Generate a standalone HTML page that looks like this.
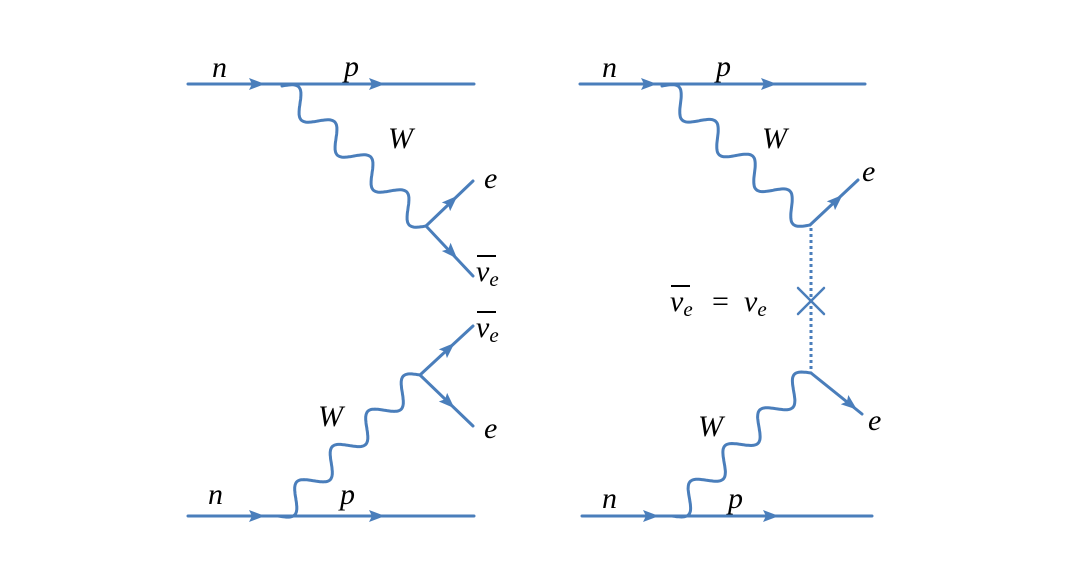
<!DOCTYPE html>
<html><head><meta charset="utf-8"><style>
html,body{margin:0;padding:0;background:#fff;width:1068px;height:580px;overflow:hidden}
svg{display:block}
text{font-family:"Liberation Serif","DejaVu Serif",serif;font-style:italic;fill:#000;font-size:30px}
.s{font-size:21px;font-style:italic}
.u{font-style:normal}
</style></head><body>
<svg id="s" width="1068" height="580" viewBox="0 0 1068 580">
<g stroke="#4a7ebb" stroke-width="3" fill="none" stroke-linecap="round">
<line x1="188" y1="84" x2="474" y2="84"/>
<line x1="426" y1="226" x2="473" y2="181"/>
<line x1="426" y1="226" x2="473" y2="276"/>
<line x1="188" y1="516" x2="474" y2="516"/>
<line x1="420" y1="375" x2="473" y2="326"/>
<line x1="420" y1="375" x2="473" y2="426"/>
<line x1="580" y1="84" x2="865" y2="84"/>
<line x1="810" y1="225" x2="858" y2="180"/>
<line x1="582" y1="516" x2="872" y2="516"/>
<line x1="811" y1="373" x2="862" y2="414"/>
<line x1="811" y1="228" x2="811" y2="372" stroke-dasharray="3,3" stroke-linecap="butt"/>
<line x1="798" y1="288" x2="824" y2="314" stroke-width="2.5"/>
<line x1="824" y1="288" x2="798" y2="314" stroke-width="2.5"/>
<g id="waves"></g>
</g>
<g fill="#4a7ebb" id="arrows"></g>
<g stroke="#000" stroke-width="2">
<line x1="477" y1="256" x2="496" y2="256"/>
<line x1="477" y1="312" x2="496" y2="312"/>
<line x1="671" y1="286" x2="690" y2="286"/>
</g>
<text x="212" y="77">n</text>
<text x="344" y="76">p</text>
<text x="388" y="148">W</text>
<text x="484" y="188">e</text>
<text x="476" y="281">ν<tspan class="s" dy="5">e</tspan></text>
<text x="476" y="337">ν<tspan class="s" dy="5">e</tspan></text>
<text x="484" y="438">e</text>
<text x="318" y="426">W</text>
<text x="208" y="504">n</text>
<text x="340" y="504">p</text>
<text x="602" y="77">n</text>
<text x="716" y="76">p</text>
<text x="762" y="148">W</text>
<text x="862" y="181">e</text>
<text x="670" y="311">ν<tspan class="s" dy="5">e</tspan></text>
<text x="712" y="311" class="u">=</text>
<text x="744" y="311">ν<tspan class="s" dy="5">e</tspan></text>
<text x="868" y="430">e</text>
<text x="698" y="436">W</text>
<text x="602" y="508">n</text>
<text x="728" y="508">p</text>
</svg>
<script>
var NS="http://www.w3.org/2000/svg";
function wave(x1,y1,x2,y2,n,a){var dx=x2-x1,dy=y2-y1,L=Math.hypot(dx,dy),ux=dx/L,uy=dy/L,px=-uy,py=ux,d="";
for(var i=0;i<=200;i++){var t=i/200,o=a*Math.sin(Math.PI*2*n*t);var x=x1+dx*t+px*o,y=y1+dy*t+py*o;d+=(i?"L":"M")+x.toFixed(1)+","+y.toFixed(1);}
var p=document.createElementNS(NS,"path");p.setAttribute("d",d);document.getElementById("waves").appendChild(p);}
wave(282,86,426,226,4,-11);
wave(278,516,420,375,4,11);
wave(662,86,810,225,4,-11);
wave(672,516,811,373,4,11);
function arrow(x,y,ang){var p=document.createElementNS(NS,"polygon");p.setAttribute("points","9,0 -7,-6 -4,0 -7,6");p.setAttribute("transform","translate("+x+","+y+") rotate("+ang+")");document.getElementById("arrows").appendChild(p);}
arrow(256,84,0);arrow(376,84,0);arrow(256,516,0);arrow(376,516,0);
arrow(648,84,0);arrow(768,84,0);arrow(650,516,0);arrow(770,516,0);
var r=function(a,b,c,d){return Math.atan2(d-b,c-a)*180/Math.PI;};
arrow(451,202,r(426,226,473,181));arrow(451,252,r(426,226,473,276));
arrow(448,349,r(420,375,473,326));arrow(448,402,r(420,375,473,426));
arrow(836,201,r(810,225,858,180));arrow(850,404,r(811,373,862,414));
</script>
</body></html>
